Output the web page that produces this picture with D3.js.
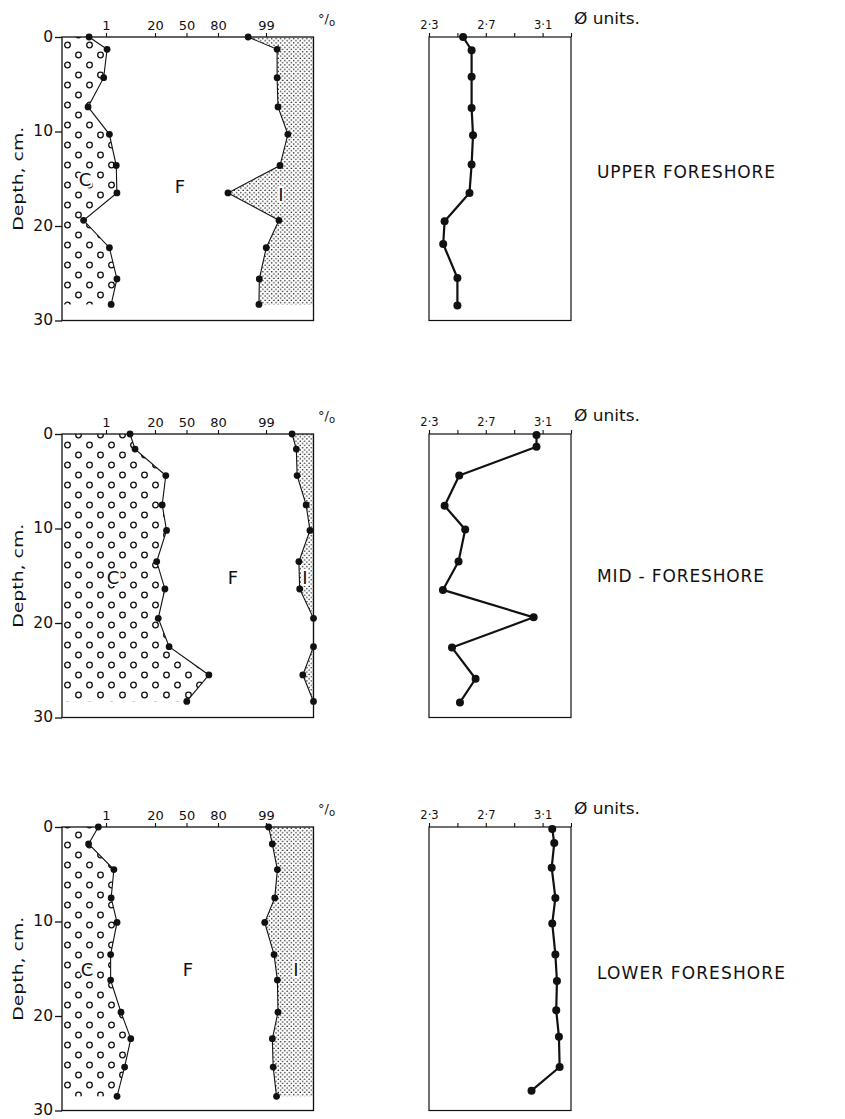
<!DOCTYPE html>
<html>
<head>
<meta charset="utf-8">
<script src="https://cdn.jsdelivr.net/npm/d3@7"></script>
<style>
  body { margin: 0; background: #fff; }
  svg { display: block; }
  text { font-family: "DejaVu Sans", sans-serif; fill: #111; }
</style>
</head>
<body>
<svg id="fig" width="845" height="1119"></svg>
<script>
// ---- Grain-size profiles of three foreshore zones (depth 0-30 cm) ----

// Upper foreshore
const depthUpper    = [0, 1.3, 4.3, 7.4, 10.3, 13.6, 16.5, 19.4, 22.3, 25.6, 28.3];
const coarseUpper   = [0.21, 1.09, 0.82, 0.19, 1.31, 2.19, 2.30, 0.12, 1.31, 2.30, 1.50];      // cumulative % coarse (C)
const cumFineUpper  = [96.2, 99.60, 99.60, 99.63, 99.85, 99.69, 87.5, 99.66, 99.02, 98.3, 98.25]; // cumulative % C + F
const phiDepthUpper = [0, 1.4, 4.2, 7.5, 10.4, 13.5, 16.5, 19.5, 21.9, 25.5, 28.4];
const phiUpper      = [2.54, 2.60, 2.60, 2.60, 2.61, 2.60, 2.585, 2.41, 2.40, 2.50, 2.50];

// Mid-foreshore
const depthMid    = [0, 1.6, 4.4, 7.5, 10.2, 13.5, 16.4, 19.5, 22.5, 25.5, 28.3];
const coarseMid   = [5.5, 7.4, 29.0, 25.8, 29.7, 21.3, 28.2, 22.5, 32.1, 72.5, 50.3];
const cumFineMid  = [99.90, 99.935, 99.94, 99.977, 99.985, 99.95, 99.954, 99.99, 99.99, 99.967, 99.99];
const phiDepthMid = [0.1, 1.35, 4.4, 7.6, 10.1, 13.5, 16.5, 19.4, 22.6, 25.9, 28.4];
const phiMid      = [3.057, 3.057, 2.513, 2.41, 2.555, 2.508, 2.398, 3.037, 2.462, 2.628, 2.518];

// Lower foreshore
const depthLower    = [0, 1.8, 4.5, 7.5, 10.1, 13.5, 16.2, 19.6, 22.4, 25.4, 28.5];
const coarseLower   = [0.51, 0.20, 1.84, 1.50, 2.32, 1.44, 1.44, 3.06, 5.76, 3.90, 2.32];
const cumFineLower  = [99.19, 99.40, 99.61, 99.51, 98.89, 99.48, 99.61, 99.63, 99.40, 99.44, 99.58];
const phiDepthLower = [0.2, 1.7, 4.3, 7.5, 10.2, 13.5, 16.3, 19.4, 22.2, 25.4, 27.9];
const phiLower      = [3.168, 3.182, 3.164, 3.190, 3.168, 3.190, 3.201, 3.196, 3.215, 3.220, 3.022];

const zoneNames = ["UPPER FORESHORE", "MID - FORESHORE", "LOWER FORESHORE"];

// Axis ticks
const pctTicks      = [1, 20, 50, 80, 99];
const depthTicks    = [0, 10, 20, 30];
const phiTicks      = [2.3, 2.5, 2.7, 2.9, 3.1, 3.3];
const phiTickLabels = ["2·3", "", "2·7", "", "3·1", ""];

// ---- layout ----
const GRAIN_LEFT = 62, GRAIN_RIGHT = 313.5;
const PHI_LEFT = 429, PHI_RIGHT = 571;
const DEPTH_SPAN = 283.5;
const panelTops = [37, 434, 827];
const titleBaselines = [177.5, 582, 979];
const titleLengths = [178, 167, 188];
// probability-paper ruling: percent anchors and where the sheet places them
const pctAnchors = [0.01, 1, 20, 50, 80, 99, 99.99];
const pctAnchorPx = [62, 106, 155, 186.5, 218, 266, 313.5];
// C / F / I label positions: [x px, depth cm]
const regionLabelPos = [
  [[85, 15.1], [180, 15.8], [281, 16.7]],
  [[113, 15.2], [233, 15.2], [305, 15.2]],
  [[87, 15.1], [188, 15.1], [296, 15.1]]
];

// Inverse normal CDF (Acklam) for the probability scale
function probit(p) {
  const a = [-3.969683028665376e+01, 2.209460984245205e+02, -2.759285104469687e+02, 1.383577518672690e+02, -3.066479806614716e+01, 2.506628277459239e+00];
  const b = [-5.447609879822406e+01, 1.615858368580409e+02, -1.556989798598866e+02, 6.680131188771972e+01, -1.328068155288572e+01];
  const c = [-7.784894002430293e-03, -3.223964580411365e-01, -2.400758277161838e+00, -2.549732539343734e+00, 4.374664141464968e+00, 2.938163982698783e+00];
  const d = [7.784695709041462e-03, 3.224671290700398e-01, 2.445134137142996e+00, 3.754408661907416e+00];
  const plow = 0.02425;
  if (p < plow) {
    const q = Math.sqrt(-2 * Math.log(p));
    return (((((c[0]*q+c[1])*q+c[2])*q+c[3])*q+c[4])*q+c[5]) / ((((d[0]*q+d[1])*q+d[2])*q+d[3])*q+1);
  }
  if (p <= 1 - plow) {
    const q = p - 0.5, r = q * q;
    return (((((a[0]*r+a[1])*r+a[2])*r+a[3])*r+a[4])*r+a[5])*q / (((((b[0]*r+b[1])*r+b[2])*r+b[3])*r+b[4])*r+1);
  }
  const q = Math.sqrt(-2 * Math.log(1 - p));
  return -(((((c[0]*q+c[1])*q+c[2])*q+c[3])*q+c[4])*q+c[5]) / ((((d[0]*q+d[1])*q+d[2])*q+d[3])*q+1);
}

const zScale = d3.scaleLinear()
  .domain(pctAnchors.map(v => probit(v / 100)))
  .range(pctAnchorPx)
  .clamp(true);
const xGrain = v => zScale(probit(v / 100));
const xPhi = d3.scaleLinear().domain([2.3, 3.3]).range([PHI_LEFT, PHI_RIGHT]);

const panels = [
  { depth: depthUpper, coarse: coarseUpper, cum: cumFineUpper, phiDepth: phiDepthUpper, phi: phiUpper },
  { depth: depthMid,   coarse: coarseMid,   cum: cumFineMid,   phiDepth: phiDepthMid,   phi: phiMid },
  { depth: depthLower, coarse: coarseLower, cum: cumFineLower, phiDepth: phiDepthLower, phi: phiLower }
];

const svg = d3.select("#fig");
svg.append("rect").attr("width", 845).attr("height", 1119).attr("fill", "#fff");
const defs = svg.append("defs");

// fine stipple for the I fraction
const stip = defs.append("pattern").attr("id", "stipple")
  .attr("patternUnits", "userSpaceOnUse").attr("width", 4.4).attr("height", 4.4);
stip.append("circle").attr("cx", 1.1).attr("cy", 1.1).attr("r", 0.75).attr("fill", "#111");
stip.append("circle").attr("cx", 3.3).attr("cy", 3.3).attr("r", 0.75).attr("fill", "#111");

// open-circle ornament for the coarse fraction
const peb = defs.append("pattern").attr("id", "pebbles")
  .attr("patternUnits", "userSpaceOnUse").attr("x", GRAIN_LEFT).attr("y", 0)
  .attr("width", 22).attr("height", 20);
[[5.5, 5], [16.5, 15]].forEach(([cx, cy]) =>
  peb.append("circle").attr("cx", cx).attr("cy", cy).attr("r", 2.8)
    .attr("fill", "none").attr("stroke", "#111").attr("stroke-width", 1.3));

const ink = "#111";

panels.forEach((p, i) => {
  const top = panelTops[i], bottom = top + DEPTH_SPAN;
  const y = d3.scaleLinear().domain([0, 30]).range([top, bottom]);
  const g = svg.append("g");

  const coarsePts = p.depth.map((d, k) => [xGrain(p.coarse[k]), y(d)]);
  const cumPts = p.depth.map((d, k) => [xGrain(p.cum[k]), y(d)]);
  const lastY = y(p.depth[p.depth.length - 1]);

  // coarse (C) region
  const cPoly = [[GRAIN_LEFT, top], ...coarsePts, [GRAIN_LEFT, lastY]];
  g.append("path").attr("d", "M" + cPoly.join("L") + "Z").attr("fill", "url(#pebbles)");

  // I region, between C+F curve and the 100 % edge
  const iPoly = [...cumPts, [GRAIN_RIGHT, lastY], [GRAIN_RIGHT, top]];
  g.append("path").attr("d", "M" + iPoly.join("L") + "Z").attr("fill", "url(#stipple)");

  // frame of grain chart
  g.append("rect").attr("x", GRAIN_LEFT).attr("y", top)
    .attr("width", GRAIN_RIGHT - GRAIN_LEFT).attr("height", DEPTH_SPAN)
    .attr("fill", "none").attr("stroke", ink).attr("stroke-width", 1.3);

  // region letters
  const lab = regionLabelPos[i];
  ["C", "F", "I"].forEach((t, k) => {
    g.append("text").attr("x", lab[k][0]).attr("y", y(lab[k][1]))
      .attr("text-anchor", "middle").attr("dominant-baseline", "central")
      .attr("font-size", 18)
      .attr("stroke", "#fff").attr("stroke-width", 4).attr("paint-order", "stroke")
      .style("fill", ink)
      .text(t);
  });

  // curves
  const line = d3.line();
  [coarsePts, cumPts].forEach(pts => {
    g.append("path").attr("d", line(pts)).attr("fill", "none")
      .attr("stroke", ink).attr("stroke-width", 1.1);
    g.selectAll(null).data(pts).join("circle")
      .attr("cx", d => d[0]).attr("cy", d => d[1]).attr("r", 3.4).attr("fill", ink);
  });

  // percent axis (top)
  const ax = g.append("g").attr("transform", `translate(0,${top})`)
    .call(d3.axisTop(zScale)
      .tickValues(pctTicks.map(v => probit(v / 100)))
      .tickFormat((d, k) => pctTicks[k])
      .tickSize(4).tickSizeOuter(0).tickPadding(3));
  ax.select(".domain").remove();
  ax.selectAll("line").attr("stroke", ink).attr("stroke-width", 1.1);
  ax.selectAll("text").attr("font-size", 13).attr("font-family", "DejaVu Sans, sans-serif").attr("fill", ink);
  g.append("text").attr("x", 318).attr("y", top - 14).attr("font-size", 13)
    .text("°/").append("tspan").attr("font-size", 10).attr("dy", 3).text("o");

  // depth axis
  const ay = g.append("g").attr("transform", `translate(${GRAIN_LEFT},0)`)
    .call(d3.axisLeft(y).tickValues(depthTicks).tickSize(7).tickPadding(2).tickSizeOuter(0));
  ay.select(".domain").remove();
  ay.selectAll("line").attr("stroke", ink).attr("stroke-width", 1.3);
  ay.selectAll("text").attr("font-size", 15.5).attr("dy", "0.27em")
    .attr("font-family", "DejaVu Sans, sans-serif").attr("fill", ink);

  g.append("text")
    .attr("transform", `translate(18,${y(15)}) rotate(-90)`)
    .attr("text-anchor", "middle").attr("dominant-baseline", "central")
    .attr("font-size", 14.5).attr("textLength", 104).attr("lengthAdjust", "spacingAndGlyphs")
    .text("Depth, cm.");

  // phi chart
  g.append("rect").attr("x", PHI_LEFT).attr("y", top)
    .attr("width", PHI_RIGHT - PHI_LEFT).attr("height", DEPTH_SPAN)
    .attr("fill", "none").attr("stroke", ink).attr("stroke-width", 1.2);
  const ap = g.append("g").attr("transform", `translate(0,${top})`)
    .call(d3.axisTop(xPhi).tickValues(phiTicks)
      .tickFormat((d, k) => phiTickLabels[k]).tickSize(4).tickSizeOuter(0).tickPadding(4));
  ap.select(".domain").remove();
  ap.selectAll("line").attr("stroke", ink).attr("stroke-width", 1.1);
  ap.selectAll("text").attr("font-size", 11.5).attr("font-family", "DejaVu Sans, sans-serif").attr("fill", ink);
  g.append("text").attr("x", PHI_RIGHT + 3).attr("y", top - 13).attr("font-size", 15)
    .attr("textLength", 66).attr("lengthAdjust", "spacingAndGlyphs").text("Ø units.");

  const phiPts = p.phiDepth.map((d, k) => [xPhi(p.phi[k]), y(d)]);
  g.append("path").attr("d", line(phiPts)).attr("fill", "none")
    .attr("stroke", ink).attr("stroke-width", 2.2).attr("stroke-linejoin", "round");
  g.selectAll(null).data(phiPts).join("circle")
    .attr("cx", d => d[0]).attr("cy", d => d[1]).attr("r", 4).attr("fill", ink);

  // zone title
  g.append("text").attr("x", 597).attr("y", titleBaselines[i])
    .attr("font-size", 17).attr("textLength", titleLengths[i]).attr("lengthAdjust", "spacing")
    .text(zoneNames[i]);
});
</script>
</body>
</html>
